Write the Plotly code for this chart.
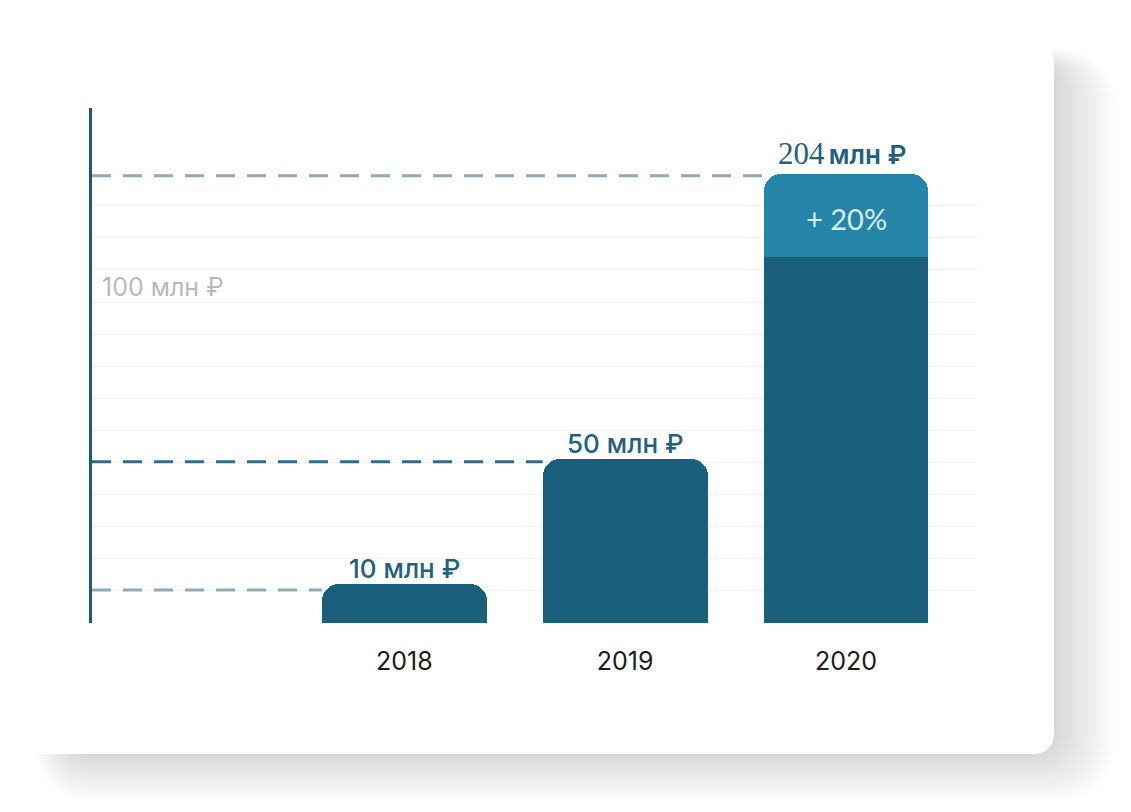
import plotly.graph_objects as go

# ---- data (bar heights in grid-step units) ----
years = ["2018", "2019", "2020"]
base_heights = [1.21, 5.10, 11.40]
growth_heights = [None, None, 2.59]
value_labels = ["10 млн ₽", "50 млн ₽", "204 млн ₽"]
growth_label = "+ 20%"
guide_levels = [1.03, 5.02, 13.93]
axis_label = "100 млн ₽"
axis_label_level = 10.47
grid_levels = list(range(0, 14))

# ---- layout geometry (pixels) ----
FW, FH = 1131, 812
L, R, T, B = 92, 977, 108, 623
PW, PH = R - L, B - T
XR = [-1.414, 2.593]
YR = [0, (B - T) / 32.1]
BAR_W = 0.7466

DARK = "#1a5f7b"
LIGHT = "#2585a9"
TXT = "#24607e"


def px2x(px):
    return (px - L) / PW


def py2y(py):
    return (B - py) / PH


def rrect(x0, y0, x1, y1, r):
    """rounded rect path in paper coords from pixel box"""
    rx, ry = r / PW, r / PH
    X0, X1 = px2x(x0), px2x(x1)
    Y0, Y1 = py2y(y0), py2y(y1)  # Y0 top (larger), Y1 bottom
    return (
        f"M{X0 + rx},{Y0} L{X1 - rx},{Y0} Q{X1},{Y0} {X1},{Y0 - ry} "
        f"L{X1},{Y1 + ry} Q{X1},{Y1} {X1 - rx},{Y1} "
        f"L{X0 + rx},{Y1} Q{X0},{Y1} {X0},{Y1 + ry} "
        f"L{X0},{Y0 - ry} Q{X0},{Y0} {X0 + rx},{Y0} Z"
    )


shapes = []
# card shadow
CX0, CY0, CX1, CY1 = 24, 42, 1054, 754
for i in range(22):
    shapes.append(dict(
        type="path", xref="paper", yref="paper", layer="below",
        path=rrect(CX0 + 44 - 1.6 * i, CY0 + 24 - 0.8 * i, CX1 - 4 + 3.2 * i, CY1 - 6 + 2.6 * i, 24 + 2 * i),
        fillcolor="rgba(165,167,188,0.022)", line=dict(width=0),
    ))
# card
shapes.append(dict(
    type="path", xref="paper", yref="paper", layer="below",
    path=rrect(CX0, CY0, CX1, CY1, 22),
    fillcolor="#ffffff", line=dict(width=0),
))

# dashed guide lines
guide_colors = ["#8eaab9", "#2f6e89", "#8eaab9"]
for i, lvl in enumerate(guide_levels):
    shapes.append(dict(
        type="line", xref="x", yref="y", layer="between",
        x0=XR[0], x1=i - BAR_W / 2, y0=lvl, y1=lvl,
        line=dict(color=guide_colors[i], width=3, dash="19px,12px"),
    ))

fig = go.Figure()
fig.add_trace(go.Bar(
    x=[0, 1, 2], y=base_heights, width=BAR_W,
    marker=dict(color=DARK, line=dict(width=0), cornerradius=17),
    hoverinfo="skip",
))
fig.add_trace(go.Bar(
    x=[0, 1, 2], y=growth_heights, width=BAR_W,
    marker=dict(color=LIGHT, line=dict(width=0), cornerradius=17),
    hoverinfo="skip",
))

annotations = []
tops = [b + (g or 0) for b, g in zip(base_heights, growth_heights)]
for i, (lab, top) in enumerate(zip(value_labels, tops)):
    if i == 2:
        num, rest = lab.split(" ", 1)
        text = (f'<span style="font-family:\'Liberation Serif\';font-size:31px;font-weight:400">{num}</span>'
                f'<span style="font-weight:600">\u2009{rest}</span>')
        annotations.append(dict(x=i - 0.02, y=top, xref="x", yref="y", text=text, showarrow=False,
                                xanchor="center", yanchor="bottom", yshift=1,
                                font=dict(family="Inter", size=26, color=TXT, weight=500)))
    else:
        annotations.append(dict(x=i, y=top, xref="x", yref="y", text=lab, showarrow=False,
                                xanchor="center", yanchor="bottom", yshift=-2,
                                font=dict(family="Inter", size=26, color=TXT, weight=500)))

annotations.append(dict(
    x=2, y=base_heights[2] + growth_heights[2] / 2 - 0.1, xref="x", yref="y", text=growth_label,
    showarrow=False, font=dict(family="Lato", size=29, color="#d6ecf4"),
))
annotations.append(dict(
    x=px2x(100), y=axis_label_level, xref="paper", yref="y", text=axis_label,
    showarrow=False, xanchor="left", yanchor="middle",
    font=dict(family="Inter", size=25, color="#b9b9b9"),
))

fig.update_layout(
    width=FW, height=FH,
    margin=dict(l=L, r=FW - R, t=T, b=FH - B, pad=0),
    paper_bgcolor="#ffffff", plot_bgcolor="rgba(0,0,0,0)",
    barmode="stack", bargap=0, showlegend=False,
    shapes=shapes, annotations=annotations,
    xaxis=dict(range=XR, tickvals=[0, 1, 2], ticktext=years, showgrid=False,
               zeroline=False, showline=False, ticks="", ticklabelstandoff=21,
               tickfont=dict(family="Inter", size=25, color="#1c1c1c"), fixedrange=True),
    yaxis=dict(range=YR, tickvals=grid_levels, showticklabels=False, showgrid=True,
               gridcolor="#efefef", gridwidth=1.2, zeroline=False,
               showline=True, linecolor="#1b5a75", linewidth=3, ticks="", fixedrange=True),
)

fig.write_html("out.html", config={"displayModeBar": False},
               post_script="document.body.style.margin='0';document.body.style.overflow='hidden';")
